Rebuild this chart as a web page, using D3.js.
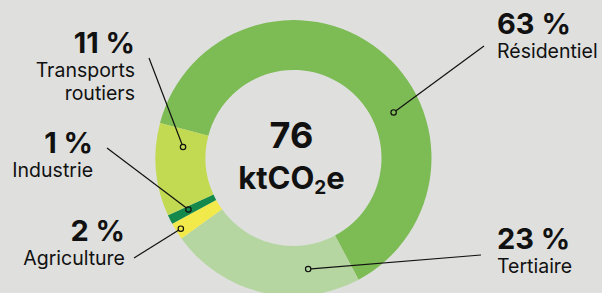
<!DOCTYPE html>
<meta charset="utf-8">
<style>
body { margin: 0; background: #dfe0de; }
svg { display: block; font-family: Inter, Roboto, sans-serif; }
.pct { font-weight: 700; font-size: 29px; fill: #111; }
.name { font-size: 19.5px; fill: #111; }
.lead { stroke: #111; stroke-width: 1.2px; fill: none; }
</style>
<body>
<div id="chart"></div>
<script src="https://d3js.org/d3.v7.min.js"></script>
<script>

// data
var sectors = ["Résidentiel", "Tertiaire", "Agriculture", "Industrie", "Transports routiers"];
var shares = [63.1, 22.9, 2.0, 1.1, 10.9];
var pctLabels = ["63 %", "23 %", "2 %", "1 %", "11 %"];
var totalValue = "76";
var totalUnit = "ktCO";

var colors = ["#7dbb55", "#b5d6a0", "#f2ea4b", "#14894b", "#c2d952"];

// label layout : where the leader dot sits in its slice, where the line ends, where the text goes
var layout = [
  { t: 0.62, r: 110, end: [484, 46],  tx: 497, ty: 34,  anchor: "start" },
  { t: 0.25, r: 112, end: [481, 255], tx: 497, ty: 249, anchor: "start" },
  { t: 0.5,  r: 133, end: [134, 258], tx: 125, ty: 241, anchor: "end" },
  { t: 0.6,  r: 117, end: [107, 148], tx: 93,  ty: 153, anchor: "end" },
  { t: 0.77, r: 111, end: [149, 58],  tx: 135, ty: 53,  anchor: "end" }
];

var width = 602, height = 293;
var cx = 293.5, cy = 158;
var outerR = 138, innerR = 88;
var start = -75.3 * Math.PI / 180;

var svg = d3.select("#chart").append("svg")
  .attr("width", width)
  .attr("height", height);

var g = svg.append("g").attr("transform", "translate(" + cx + "," + cy + ")");

var pie = d3.pie()
  .sort(null)
  .startAngle(start)
  .endAngle(start + 2 * Math.PI)
  .value(function(d) { return d; });

var arcs = pie(shares);

var arc = d3.arc().innerRadius(innerR).outerRadius(outerR);

g.selectAll("path.slice")
  .data(arcs)
  .enter().append("path")
    .attr("class", "slice")
    .attr("d", arc)
    .style("fill", function(d, i) { return colors[i]; });

// dot position inside each slice
function dotPos(d, i) {
  var L = layout[i];
  var a = d.startAngle + (d.endAngle - d.startAngle) * L.t;
  return [cx + L.r * Math.sin(a), cy - L.r * Math.cos(a)];
}

svg.selectAll("line.lead")
  .data(arcs)
  .enter().append("line")
    .attr("class", "lead")
    .attr("x1", function(d, i) { return dotPos(d, i)[0]; })
    .attr("y1", function(d, i) { return dotPos(d, i)[1]; })
    .attr("x2", function(d, i) { return layout[i].end[0]; })
    .attr("y2", function(d, i) { return layout[i].end[1]; });

svg.selectAll("circle.dot")
  .data(arcs)
  .enter().append("circle")
    .attr("class", "lead")
    .attr("cx", function(d, i) { return dotPos(d, i)[0]; })
    .attr("cy", function(d, i) { return dotPos(d, i)[1]; })
    .attr("r", 2.7)
    .style("fill", function(d, i) { return colors[i]; });

// labels
sectors.forEach(function(name, i) {
  var L = layout[i];
  svg.append("text")
    .attr("class", "pct")
    .attr("x", L.tx).attr("y", L.ty)
    .attr("text-anchor", L.anchor)
    .text(pctLabels[i]);
  var lines = name === "Transports routiers" ? ["Transports", "routiers"] : [name];
  lines.forEach(function(s, k) {
    svg.append("text")
      .attr("class", "name")
      .attr("x", L.tx).attr("y", L.ty + 24 + k * 23)
      .attr("text-anchor", L.anchor)
      .text(s);
  });
});

// centre
svg.append("text")
  .attr("x", cx - 2).attr("y", 148)
  .attr("text-anchor", "middle")
  .style("font-weight", 700).style("font-size", "36px").style("fill", "#111")
  .text(totalValue);

var unit = svg.append("text")
  .attr("x", cx - 2).attr("y", 189)
  .attr("text-anchor", "middle")
  .style("font-weight", 700).style("font-size", "31px").style("fill", "#111");
unit.append("tspan").text(totalUnit);
unit.append("tspan").attr("dy", 5).style("font-size", "19px").text("2");
unit.append("tspan").attr("dy", -5).text("e");

</script>
</body>
